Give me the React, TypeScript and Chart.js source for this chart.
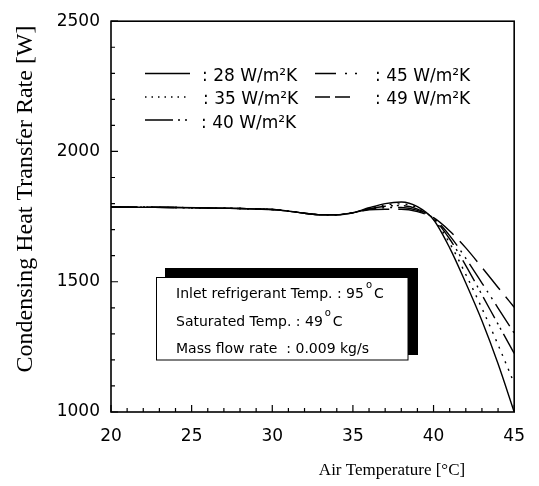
import React, { useEffect, useRef } from 'react';
import { Chart, registerables } from 'chart.js';

Chart.register(...registerables);

// Air temperature [°C]
const temps = [20, 22, 24, 26, 28, 30, 31, 32, 33, 34, 35, 36, 37, 38, 39, 40, 41, 42, 43, 44, 45];
// Common part of all curves (20 .. 35 °C)
const common = [1787, 1786, 1785, 1783, 1781, 1777, 1771, 1763, 1757, 1757, 1765];
// 36 .. 45 °C for each heat transfer coefficient
const tail28 = [1784, 1800, 1806, 1788, 1738, 1630, 1495, 1350, 1185, 1000];
const tail35 = [1782, 1795, 1799, 1784, 1740, 1648, 1528, 1398, 1258, 1110];
const tail40 = [1780, 1790, 1792, 1779, 1742, 1664, 1562, 1450, 1337, 1225];
const tail45 = [1778, 1784, 1785, 1774, 1744, 1677, 1590, 1495, 1399, 1303];
const tail49 = [1776, 1778, 1778, 1769, 1746, 1695, 1630, 1555, 1478, 1402];

const seriesLabels = [': 28 W/m²K', ': 35 W/m²K', ': 40 W/m²K', ': 45 W/m²K', ': 49 W/m²K'];
const xTicks = [20, 25, 30, 35, 40, 45];
const yTicks = [1000, 1500, 2000, 2500];

const infoLines = ['Inlet refrigerant Temp. : 95', 'Saturated Temp. : 49', 'Mass flow rate  : 0.009 kg/s'];
const infoUnits = ['C', 'C', ''];

const SANS = '"DejaVu Sans", sans-serif';
const SERIF = '"Liberation Serif", "Times New Roman", serif';

const plotDashes = [[], [2, 6], [24, 5, 2, 4, 2, 5], [26, 6, 2, 6, 2, 6], [27, 9]];
const legendDashes = [[], [1.5, 5], [28, 5, 2, 5, 2, 5], [21, 9, 2, 8, 2, 8], [15, 5]];
// legend layout: [x start, x end, y line, text x, text baseline]
const legendSlots = [
  [145, 190, 73.5, 202, 81],
  [145, 190, 97, 203, 104.3],
  [145, 190, 120, 201, 127.5],
  [315, 360, 73.5, 375, 81],
  [315, 351, 97, 375, 104.3],
];

const decor = {
  id: 'decor',
  afterDraw(chart: any) {
    const { ctx, chartArea: a, scales } = chart;
    const xs = scales.x;
    const ys = scales.y;
    ctx.save();
    ctx.strokeStyle = '#000';
    ctx.fillStyle = '#000';
    // frame
    ctx.lineWidth = 1.6;
    ctx.setLineDash([]);
    ctx.strokeRect(a.left, a.top, a.right - a.left, a.bottom - a.top);
    // inward ticks
    ctx.lineWidth = 1.2;
    ctx.beginPath();
    for (let v = 20; v <= 45; v++) {
      const px = xs.getPixelForValue(v);
      const len = v % 5 === 0 ? 7 : 4;
      ctx.moveTo(px, a.bottom);
      ctx.lineTo(px, a.bottom - len);
    }
    for (let v = 1000; v <= 2500; v += 100) {
      const py = ys.getPixelForValue(v);
      const len = v % 500 === 0 ? 7 : 4;
      ctx.moveTo(a.left, py);
      ctx.lineTo(a.left + len, py);
    }
    ctx.stroke();

    // legend
    ctx.font = `17px ${SANS}`;
    ctx.textAlign = 'left';
    ctx.textBaseline = 'alphabetic';
    legendSlots.forEach((s, i) => {
      ctx.lineWidth = 1.4;
      ctx.setLineDash(legendDashes[i]);
      ctx.beginPath();
      ctx.moveTo(s[0], s[2]);
      ctx.lineTo(s[1], s[2]);
      ctx.stroke();
      ctx.setLineDash([]);
      ctx.fillText(seriesLabels[i], s[3], s[4]);
    });

    // info box with shadow
    ctx.fillRect(165, 268, 253, 87);
    ctx.fillStyle = '#fff';
    ctx.fillRect(156, 277, 252, 83);
    ctx.fillStyle = '#000';
    ctx.lineWidth = 1;
    ctx.strokeRect(156.5, 277.5, 251.5, 82.5);
    const baselines = [297.7, 326, 352.7];
    infoLines.forEach((t, i) => {
      ctx.font = `14px ${SANS}`;
      ctx.fillText(t, 176, baselines[i]);
      if (infoUnits[i]) {
        const w = ctx.measureText(t).width;
        ctx.font = `10px ${SANS}`;
        ctx.fillText('o', 176 + w + 2, baselines[i] - 10);
        ctx.font = `14px ${SANS}`;
        ctx.fillText(infoUnits[i], 176 + w + 10, baselines[i]);
      }
    });

    // axis titles
    ctx.font = `17px ${SERIF}`;
    ctx.textAlign = 'center';
    ctx.fillText('Air Temperature [°C]', 392, 475);
    ctx.save();
    ctx.translate(32, 199);
    ctx.rotate(-Math.PI / 2);
    ctx.font = `24px ${SERIF}`;
    ctx.fillText('Condensing Heat Transfer Rate [W]', 0, 0);
    ctx.restore();
    ctx.restore();
  },
};

export default function App() {
  const ref = useRef<HTMLCanvasElement>(null);
  useEffect(() => {
    if (!ref.current) return;
    const tails = [tail28, tail35, tail40, tail45, tail49];
    const datasets = tails.map((tail, i) => ({
      label: seriesLabels[i],
      data: common.concat(tail).map((v, k) => ({ x: temps[k], y: v })),
      borderColor: '#000',
      borderWidth: 1.4,
      borderDash: plotDashes[i],
      pointRadius: 0,
      fill: false,
      cubicInterpolationMode: 'monotone' as const,
    }));
    const chart = new Chart(ref.current, {
      type: 'line',
      data: { datasets },
      options: {
        responsive: false,
        animation: false,
        devicePixelRatio: 1,
        layout: { padding: { top: 16, right: 22, left: 0, bottom: 0 } },
        plugins: { legend: { display: false }, tooltip: { enabled: false } },
        scales: {
          x: {
            type: 'linear',
            min: 20,
            max: 45,
            afterFit: (s: any) => { s.height = 74; },
            afterBuildTicks: (s: any) => { s.ticks = xTicks.map((v) => ({ value: v })); },
            grid: { display: false, drawTicks: false },
            border: { display: false },
            ticks: { color: '#000', font: { family: SANS, size: 17 }, padding: 14, maxRotation: 0, callback: (v: any) => String(v) },
          },
          y: {
            type: 'linear',
            min: 1000,
            max: 2500,
            afterFit: (s: any) => { s.width = 111; },
            afterBuildTicks: (s: any) => { s.ticks = yTicks.map((v) => ({ value: v })); },
            grid: { display: false, drawTicks: false },
            border: { display: false },
            ticks: { color: '#000', font: { family: SANS, size: 17 }, padding: 11, callback: (v: any) => String(v) },
          },
        },
      },
      plugins: [decor],
    });
    return () => chart.destroy();
  }, []);
  return (
    <div style={{ position: 'absolute', left: 0, top: 0, width: 539, height: 486, background: '#fff' }}>
      <canvas ref={ref} width={539} height={486} />
    </div>
  );
}
